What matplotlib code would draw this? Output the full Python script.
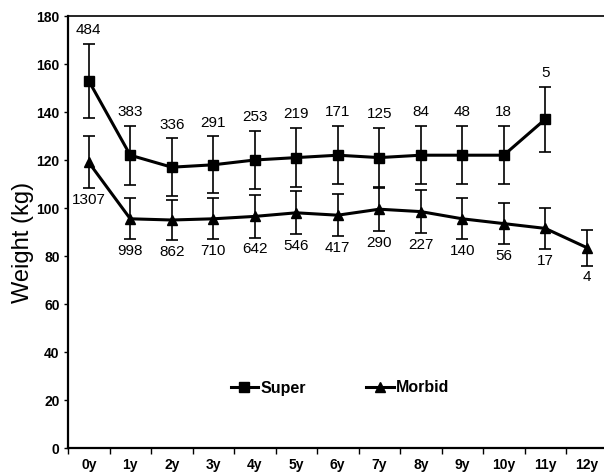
import numpy as np
from matplotlib import pyplot as plt

# values
years = ['0y', '1y', '2y', '3y', '4y', '5y', '6y', '7y', '8y', '9y', '10y', '11y', '12y']

super_mean = [153, 122, 117, 118, 120, 121, 122, 121, 122, 122, 122, 137]
super_err = [15.3, 12.3, 12, 11.8, 12, 12.2, 12.2, 12.4, 12.2, 12.2, 12.2, 13.5]
super_n = [484, 383, 336, 291, 253, 219, 171, 125, 84, 48, 18, 5]

morbid_mean = [119, 95.5, 95, 95.5, 96.5, 98, 97, 99.5, 98.5, 95.5, 93.5, 91.5, 83.5]
morbid_err = [10.8, 8.5, 8.5, 8.5, 8.8, 8.9, 8.7, 9, 8.9, 8.5, 8.6, 8.5, 7.5]
morbid_n = [1307, 998, 862, 710, 642, 546, 417, 290, 227, 140, 56, 17, 4]

plt.rcParams['font.family'] = ['Liberation Sans', 'DejaVu Sans']

fig = plt.figure(figsize=(6.04, 4.76), dpi=100)
# plot area runs a little past the right edge of the picture, like the original
ax = fig.add_axes([68 / 604, 28 / 476, 539.5 / 604, 432 / 476])

xs = np.arange(len(super_mean))
xm = np.arange(len(morbid_mean))

ax.errorbar(xs, super_mean, yerr=super_err, fmt='none', ecolor='black',
            elinewidth=1.2, capsize=4.2, capthick=1.2, zorder=2)
ax.errorbar(xm, morbid_mean, yerr=morbid_err, fmt='none', ecolor='black',
            elinewidth=1.2, capsize=4.2, capthick=1.2, zorder=2)
ax.plot(xs, super_mean, color='black', lw=2.2, marker='s', ms=6.5, label='Super', zorder=3)
ax.plot(xm, morbid_mean, color='black', lw=2.2, marker='^', ms=7, label='Morbid', zorder=3)

for x, m, e, n in zip(xs, super_mean, super_err, super_n):
    ax.annotate(str(n), (x, m + e), xytext=(0, 10), textcoords='offset points',
                ha='center', va='center', fontsize=11)
for x, m, e, n in zip(xm, morbid_mean, morbid_err, morbid_n):
    ax.annotate(str(n), (x, m - e), xytext=(0, -8.5), textcoords='offset points',
                ha='center', va='center', fontsize=11)

ax.set_xlim(-0.5, 12.5)
ax.set_ylim(0, 180)
ax.set_yticks(range(0, 181, 20))
ax.set_xticks(np.arange(-0.5, 13, 1))
ax.set_xticklabels([])
ax.set_xticks(np.arange(13), minor=True)
ax.set_xticklabels(years, minor=True)
ax.tick_params(axis='x', which='major', direction='out', length=4, width=1)
ax.tick_params(axis='x', which='minor', length=0, pad=7)
ax.tick_params(axis='y', direction='out', length=3, width=1, pad=3)
for lab in ax.get_xticklabels(minor=True) + ax.get_yticklabels():
    lab.set_fontweight('bold')
    lab.set_fontsize(10)

ax.spines['right'].set_visible(False)
ax.spines['left'].set_linewidth(1.6)
ax.spines['bottom'].set_linewidth(1.6)
ax.spines['top'].set_linewidth(1.2)

ax.text((23 - 68) / 539.5, (448 - 242) / 432, 'Weight (kg)', transform=ax.transAxes,
        rotation=90, ha='center', va='center', fontsize=17)

ax.legend(loc='center', bbox_to_anchor=((340 - 68) / 539.5, (448 - 388) / 432),
          ncol=2, frameon=False, handlelength=1.7, handletextpad=0.15,
          columnspacing=3.8, prop={'weight': 'bold', 'size': 11.5})

plt.savefig('out.png', dpi=100)
